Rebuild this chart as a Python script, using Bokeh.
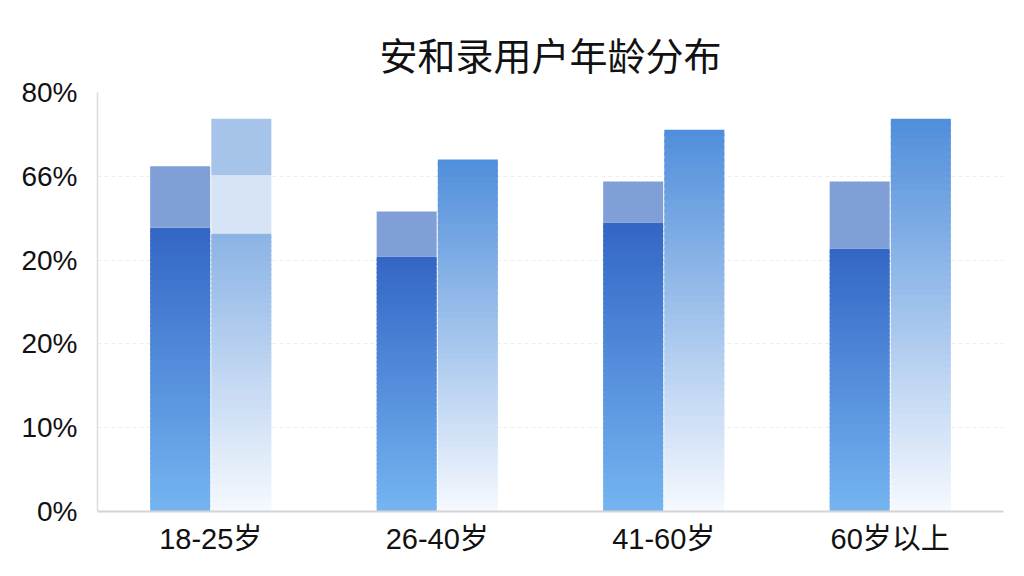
from bokeh.plotting import figure
from bokeh.models import ColumnDataSource, FixedTicker, Range1d, FactorRange
from bokeh.transform import dodge
from bokeh.embed import file_html
from bokeh.resources import INLINE

# ---------------- data ----------------
categories = ["18-25岁", "26-40岁", "41-60岁", "60岁以上"]
left_base = [54.2, 48.7, 55.2, 50.2]      # dark lower segment of left bar
left_total = [65.9, 57.3, 63.0, 63.0]     # total height of left bar
right_low = [53.1, 67.2, 72.9, 75.0]      # gradient part of right bar
right_mid = [64.2, 67.2, 72.9, 75.0]      # pale middle segment top
right_total = [75.0, 67.2, 72.9, 75.0]    # total height of right bar
tick_values = [0, 16, 32, 48, 64, 80]
tick_labels = ["0%", "10%", "20%", "20%", "66%", "80%"]
title_text = "安和录用户年龄分布"

# ---------------- styles ----------------
DARK_BOTTOM, DARK_TOP = "#75b5f1", "#3366c5"
LEFT_CAP = "#7f9fd6"
RIGHT_BOTTOM = "#f6f9fe"
RIGHT_TOPS = ["#8ab3e5", "#4f8edb", "#4f8edb", "#4f8edb"]
RIGHT_PALE = "#d6e4f6"
RIGHT_LIGHT = "#a6c3ea"
N_SLICES = 60
OFF = 0.135
BAR_W = 0.265
LABEL_FONT = "'Liberation Sans', 'Noto Sans CJK SC', sans-serif"


def hex_to_rgb(h):
    h = h.lstrip("#")
    return tuple(int(h[i:i + 2], 16) for i in (0, 2, 4))


def lerp(c0, c1, t):
    a, b = hex_to_rgb(c0), hex_to_rgb(c1)
    return "#%02x%02x%02x" % tuple(round(a[i] + (b[i] - a[i]) * t) for i in range(3))


def gradient(cats, tops, c_bottom, c_tops):
    xs, bs, ts, cs = [], [], [], []
    for cat, top, ct in zip(cats, tops, c_tops):
        step = top / N_SLICES
        for i in range(N_SLICES):
            xs.append(cat)
            bs.append(i * step)
            ts.append(min(top, (i + 1) * step + step * 0.4))
            cs.append(lerp(c_bottom, ct, (i + 0.5) / N_SLICES))
    return ColumnDataSource(dict(x=xs, bottom=bs, top=ts, color=cs))


def segments(cats, lows, highs):
    d = dict(x=[], bottom=[], top=[])
    for c, lo, hi in zip(cats, lows, highs):
        if hi > lo:
            d["x"].append(c)
            d["bottom"].append(lo)
            d["top"].append(hi)
    return ColumnDataSource(d)


p = figure(
    x_range=FactorRange(*categories, range_padding=0),
    y_range=Range1d(0, 80),
    width=1008, height=560,
    min_border_left=97, min_border_right=5,
    min_border_top=92, min_border_bottom=49,
    output_backend="svg", toolbar_location=None,
    title=title_text,
)

# left bars
src = gradient(categories, left_base, DARK_BOTTOM, [DARK_TOP] * 4)
p.vbar(x=dodge("x", -OFF, range=p.x_range), width=BAR_W, bottom="bottom", top="top",
       source=src, fill_color="color", line_color=None)
p.vbar(x=dodge("x", -OFF, range=p.x_range), width=BAR_W, bottom="bottom", top="top",
       source=segments(categories, left_base, left_total), fill_color=LEFT_CAP, line_color=None)

# right bars
src = gradient(categories, right_low, RIGHT_BOTTOM, RIGHT_TOPS)
p.vbar(x=dodge("x", OFF, range=p.x_range), width=BAR_W, bottom="bottom", top="top",
       source=src, fill_color="color", line_color=None)
p.vbar(x=dodge("x", OFF, range=p.x_range), width=BAR_W, bottom="bottom", top="top",
       source=segments(categories, right_low, right_mid), fill_color=RIGHT_PALE, line_color=None)
p.vbar(x=dodge("x", OFF, range=p.x_range), width=BAR_W, bottom="bottom", top="top",
       source=segments(categories, right_mid, right_total), fill_color=RIGHT_LIGHT, line_color=None)

# title
p.title.text_font = "'Noto Sans CJK SC', sans-serif"
p.title.text_font_size = "38px"
p.title.text_font_style = "normal"
p.title.text_color = "#111111"
p.title.align = "center"
p.title.vertical_align = "top"
p.title.text_line_height = 0.6
p.title.standoff = 20

# axes
p.yaxis.ticker = FixedTicker(ticks=tick_values)
p.yaxis.major_label_overrides = {v: l for v, l in zip(tick_values, tick_labels)}
for ax in (p.xaxis, p.yaxis):
    ax.major_tick_line_color = None
    ax.minor_tick_line_color = None
    ax.major_label_text_font = LABEL_FONT
    ax.major_label_text_color = "#111111"
p.yaxis.major_label_text_font_size = "28px"
p.xaxis.major_label_text_font_size = "29px"
p.yaxis.axis_line_color = "#dcdcdc"
p.yaxis.axis_line_width = 1.5
p.yaxis.major_label_standoff = 14
p.xaxis.axis_line_color = "#d4d4d4"
p.xaxis.axis_line_width = 2
p.xaxis.major_label_standoff = 5

p.xgrid.grid_line_color = None
p.ygrid.grid_line_color = "#ededed"
p.ygrid.grid_line_dash = "4 3"
p.outline_line_color = None

open("out.html", "w").write(file_html(p, INLINE))
